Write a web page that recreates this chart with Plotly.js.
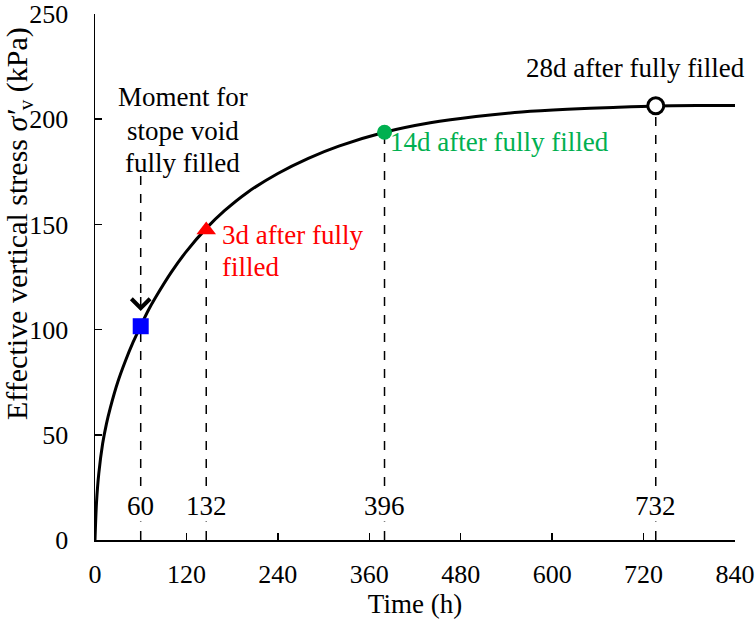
<!DOCTYPE html>
<html>
<head>
<meta charset="utf-8">
<script src="https://cdn.plot.ly/plotly-3.0.1.min.js"></script>
<style>html,body{margin:0;padding:0;background:#fff;}#chart{width:755px;height:620px;}</style>
</head>
<body>
<div id="chart"></div>
<script>
// Curve
const timeH = [0, 2, 5, 10, 15, 20, 30, 40, 50, 60, 70, 80, 100, 120, 146, 170, 200, 240, 280, 320, 380, 440, 500, 560, 620, 680, 736, 790, 840];
const stressKPa = [0, 18, 31.7, 45.7, 55.2, 62.7, 75.2, 85.2, 94, 101.8, 109.2, 115.6, 127.2, 137.2, 148.1, 156.5, 165.2, 174.2, 181.4, 187.2, 193.8, 198.3, 201.3, 203.4, 204.7, 205.6, 206.3, 206.5, 206.5];

// Marked moments
const eventTime = [60, 146, 380, 736];
const eventStress = [101.6, 147.3, 193.8, 206.4];
const eventTickLabels = ['60', '132', '396', '732'];
const momentLines = ['Moment for', 'stope void', 'fully filled'];
const day3Lines = ['3d after fully', 'filled'];
const day14Note = '14d after fully filled';
const day28Note = '28d after fully filled';
const eventColors = ['#0000FF', '#FF0000', '#00B050', '#000000'];

const xTicks = [0, 120, 240, 360, 480, 600, 720, 840];
const yTicks = [0, 50, 100, 150, 200, 250];
const xTitle = 'Time (h)';
const yTitle = 'Effective vertical stress <i>σ′</i><sub>v</sub> (kPa)';

const FONT = 'Times New Roman, Liberation Serif, serif';
const FS = 27;
const TFS = 26;
const M = {l: 95, r: 20, t: 14, b: 80};
const plotH = 620 - M.t - M.b;
const plotW = 755 - M.l - M.r;
const pxToY = p => 250 - (p - M.t) * 250 / plotH;

const traces = [
  {x: timeH, y: stressKPa, mode: 'lines', line: {color: '#000', width: 3, shape: 'spline', smoothing: 0.8}, hoverinfo: 'skip'},
  {x: [eventTime[0]], y: [eventStress[0]], mode: 'markers', marker: {symbol: 'square', size: 16, color: eventColors[0]}},
  {x: [eventTime[1]], y: [eventStress[1]], mode: 'markers', marker: {symbol: 'triangle-up', size: 17, color: eventColors[1]}},
  {x: [eventTime[2]], y: [eventStress[2]], mode: 'markers', marker: {symbol: 'circle', size: 15, color: eventColors[2]}},
  {x: [eventTime[3]], y: [eventStress[3]], mode: 'markers', marker: {symbol: 'circle', size: 16, color: '#fff', line: {color: '#000', width: 3}}}
];

const shapes = eventTime.map((t, i) => ({
  type: 'line', xref: 'x', yref: 'y', x0: t, x1: t, y0: 0, y1: eventStress[i],
  line: {color: '#000', width: 1.5, dash: 'dash'}, layer: 'below'
}));
// dashed stem of the arrow above the square
shapes.push({type: 'line', xref: 'x', yref: 'y', x0: eventTime[0], x1: eventTime[0], y0: pxToY(176), y1: pxToY(300),
  line: {color: '#000', width: 1.5, dash: 'dash'}});

const annotations = [];
eventTime.forEach((t, i) => {
  annotations.push({x: t, y: pxToY(506), xref: 'x', yref: 'y', text: eventTickLabels[i], showarrow: false,
    font: {family: FONT, size: FS, color: '#000'}, bgcolor: '#fff', xanchor: 'center', yanchor: 'middle', borderpad: 0});
});
// arrow head
annotations.push({x: eventTime[0], y: pxToY(311), xref: 'x', yref: 'y', text: ' ', showarrow: true, ax: 0, ay: -15,
  arrowhead: 4, arrowsize: 2.4, arrowwidth: 1.5, arrowcolor: '#000', font: {size: 1}, borderpad: 0});
// line centres in pixels from the top of the picture
[97, 131, 163].forEach((p, i) => annotations.push({x: 115, y: pxToY(p), xref: 'x', yref: 'y', text: momentLines[i], showarrow: false,
  font: {family: FONT, size: FS, color: '#000'}, xanchor: 'center', yanchor: 'middle'}));
[235, 267].forEach((p, i) => annotations.push({x: 164, y: pxToY(p), xref: 'x', yref: 'y', text: day3Lines[i], showarrow: false,
  font: {family: FONT, size: FS, color: eventColors[1]}, xanchor: 'left', yanchor: 'middle', align: 'left'}));
annotations.push({x: 384, y: pxToY(142), xref: 'x', yref: 'y', text: day14Note, showarrow: false,
  font: {family: FONT, size: FS, color: eventColors[2]}, xanchor: 'left', yanchor: 'middle', align: 'left'});
annotations.push({x: 709, y: pxToY(68), xref: 'x', yref: 'y', text: day28Note, showarrow: false,
  font: {family: FONT, size: FS, color: '#000'}, xanchor: 'center', yanchor: 'middle', align: 'center'});
// y-axis title
annotations.push({x: (19 - M.l) / plotW, y: (540 - 224) / plotH, xref: 'paper', yref: 'paper', text: yTitle, textangle: -90,
  showarrow: false, font: {family: FONT, size: 30, color: '#000'}, xanchor: 'center', yanchor: 'middle'});

const layout = {
  width: 755, height: 620,
  margin: M,
  paper_bgcolor: '#fff', plot_bgcolor: '#fff',
  showlegend: false,
  font: {family: FONT, size: FS, color: '#000'},
  xaxis: {
    range: [0, 840], tickvals: xTicks, ticktext: xTicks.map(String), ticklabeloverflow: 'allow',
    showgrid: false, zeroline: false, showline: true, linecolor: '#000', linewidth: 1.5,
    ticks: 'inside', ticklen: 7, tickwidth: 1.5, tickcolor: '#000', ticklabelstandoff: 10,
    tickfont: {family: FONT, size: TFS, color: '#000'},
    title: {text: xTitle, font: {family: FONT, size: FS, color: '#000'}, standoff: 3}
  },
  yaxis: {
    range: [0, 250], tickvals: yTicks, ticktext: yTicks.map(String), ticklabeloverflow: 'allow',
    showgrid: false, zeroline: false, showline: true, linecolor: '#000', linewidth: 1.5,
    ticks: 'inside', ticklen: 7, tickwidth: 1.5, tickcolor: '#000', ticklabelstandoff: 20,
    tickfont: {family: FONT, size: TFS, color: '#000'}
  },
  shapes: shapes,
  annotations: annotations
};

Plotly.newPlot('chart', traces, layout, {staticPlot: true, displayModeBar: false});
</script>
</body>
</html>
